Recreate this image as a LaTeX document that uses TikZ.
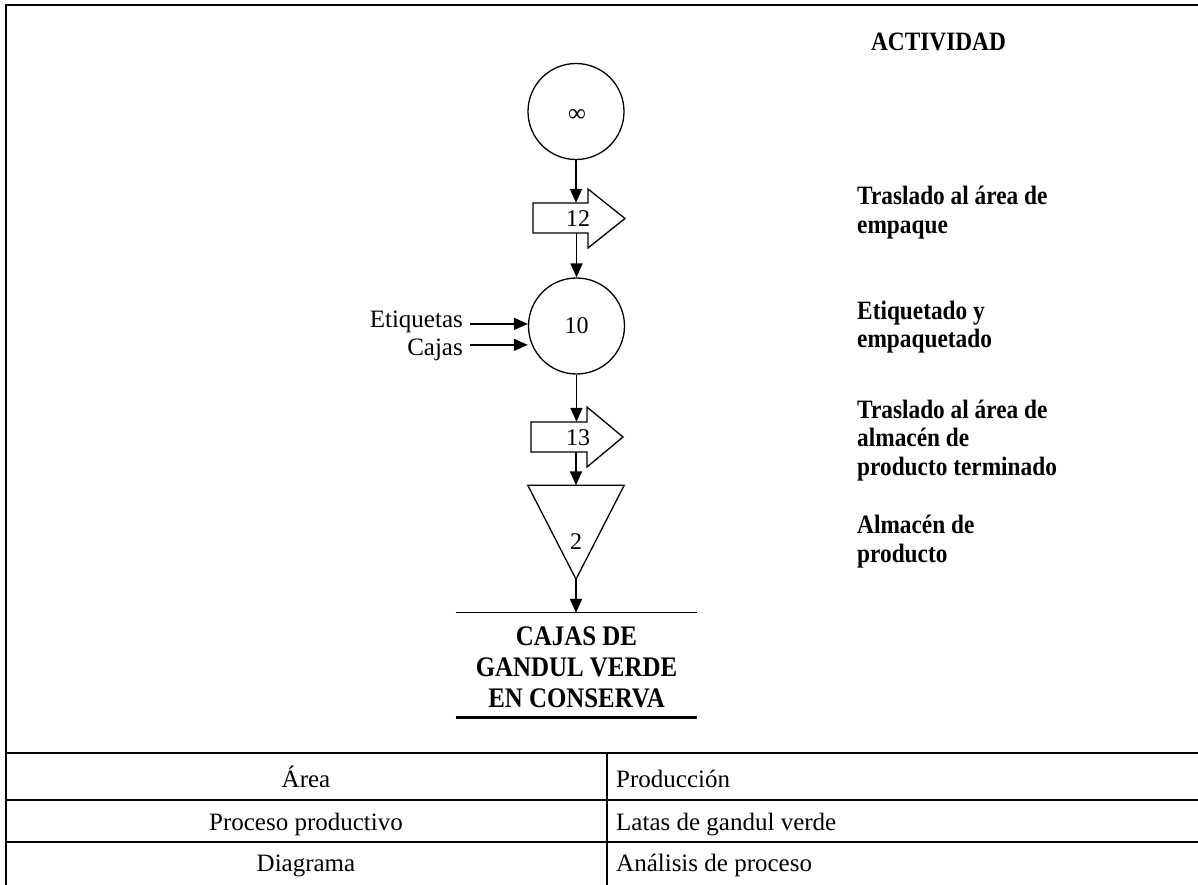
\documentclass[tikz,border=0pt]{standalone}
\usepackage{fontspec}
\setmainfont{Liberation Serif}[BoldFeatures={FakeStretch=0.88}]
\usetikzlibrary{arrows.meta}
\newcommand\regtxt{\fontsize{24}{28}\selectfont}
\newcommand\celltext{\fontsize{25}{28}\selectfont}
\newcommand\boldlab{\fontsize{26.5}{28.5}\selectfont\bfseries}
\newcommand\boldbig{\fontsize{28.3}{31}\selectfont\bfseries}
\begin{document}
\begin{tikzpicture}[x=1pt,y=-1pt,
  proc/.style={circle, draw, line width=1.3pt, minimum size=96pt, inner sep=0pt, font=\regtxt},
  conn/.style={line width=1.6pt, -{Triangle[length=14pt,width=12pt]}},
  transshape/.style={line width=1.3pt, fill=white, line join=miter},
  slot/.style={rectangle, inner sep=0pt, draw=none},
  actlab/.style={font=\boldlab, align=left, anchor=west, inner sep=0pt},
  inlab/.style={font=\celltext, anchor=base east, inner sep=0pt},
  celltxt/.style={font=\celltext, inner sep=0pt},
  framel/.style={line width=2pt, line cap=rect},
  tablel/.style={line width=2pt}
]
\useasboundingbox (0,0) rectangle (1198,885);

% outer frame
\draw[framel] (6,885) -- (6,5) -- (1198,5);

% title
\node[font=\boldlab, inner sep=0pt] (act) at (938.5,42) {ACTIVIDAD};

% operation circle (top)
\node[proc] (c0) at (576,111.5) {};
\node[inner sep=0pt, font=\fontsize{25}{26}\selectfont] (inf) at (577,116) {∞};

% transport 12
\node[slot, minimum width=55pt, minimum height=30pt] (t12) at (560.5,218) {};
\draw[transshape] (533,203) -- (588,203) -- (588,189) -- (625,218.5) -- (588,248) -- (588,233) -- (533,233) -- cycle;
\node[font=\regtxt, inner sep=0pt] (n12) at (578,219) {12};

% operation 10
\node[proc] (c10) at (576.5,326) {10};

% transport 13
\node[slot, minimum width=56pt, minimum height=30pt] (t13) at (559,437) {};
\draw[transshape] (531,422) -- (587,422) -- (587,407) -- (623,437) -- (587,467) -- (587,452) -- (531,452) -- cycle;
\node[font=\regtxt, inner sep=0pt] (n13) at (578,438) {13};

% storage triangle 2
\node[slot, minimum width=96pt, minimum height=93.5pt] (tri) at (576,532.25) {};
\draw[line width=1.3pt, line join=miter] (tri.north west) -- (tri.north east) -- (tri.south) -- cycle;
\node[font=\regtxt, inner sep=0pt] (n2) at (576,542) {2};

% final product
\node[slot, minimum width=241pt, minimum height=104pt] (prod) at (576.5,665) {};
\draw[line width=1.3pt] (prod.north west) -- (prod.north east);
\draw[line width=2.6pt] (prod.south west) -- (prod.south east);
\node[font=\boldbig, align=center, inner sep=0pt] (prodtxt) at (576.5,667) {CAJAS DE\\GANDUL VERDE\\EN CONSERVA};

% inputs
\node[inlab] (et) at (463,327) {Etiquetas};
\node[inlab] (ca) at (463,355) {Cajas};
\coordinate (etc) at ([yshift=-2.5pt]et.east);
\coordinate (cac) at ([yshift=4.5pt]ca.east);
\draw[conn] ([xshift=7pt]etc) -- (etc -| c10.west);
\draw[conn] ([xshift=7pt]cac) -- (cac -| c10.west);

% flow connectors
\draw[conn] (c0.south) -- (c0.south |- t12.north);
\draw[conn] (c10.north |- t12.south) -- (c10.north);
\draw[conn] (c10.south) -- (c10.south |- t13.north);
\draw[conn] (tri.north |- t13.south) -- (tri.north);
\draw[conn] (tri.south) -- (tri.south |- prod.north);

% activity labels
\node[actlab] (a1) at (857,212.5) {Traslado al área de\\empaque};
\node[actlab] (a2) at (857,327) {Etiquetado y\\empaquetado};
\node[actlab] (a3) at (857,440.5) {Traslado al área de\\almacén de\\producto terminado};
\node[actlab] (a4) at (857,541.5) {Almacén de\\producto};

% table
\draw[tablel] (6,753) -- (1198,753);
\draw[tablel] (6,800) -- (1198,800);
\draw[tablel] (6,842) -- (1198,842);
\draw[line width=1.3pt] (607,753) -- (607,885);
\node[celltxt, anchor=base] (r1a) at (306,787.5) {Área};
\node[celltxt, anchor=base] (r2a) at (306,830) {Proceso productivo};
\node[celltxt, anchor=base] (r3a) at (306,871) {Diagrama};
\node[celltxt, anchor=base west] (r1b) at (616,787.5) {Producción};
\node[celltxt, anchor=base west] (r2b) at (616,830) {Latas de gandul verde};
\node[celltxt, anchor=base west] (r3b) at (616,871) {Análisis de proceso};
\end{tikzpicture}
\end{document}
